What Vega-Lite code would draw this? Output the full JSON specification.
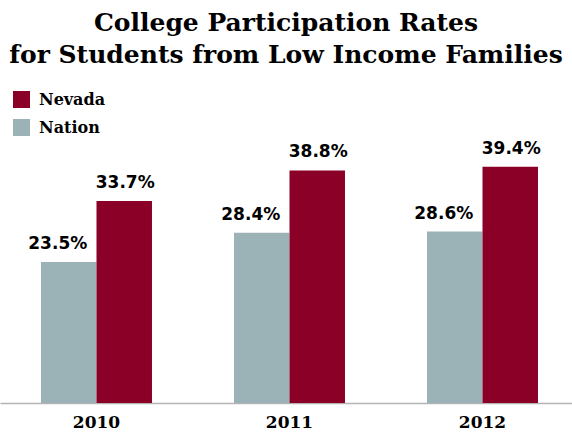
{
  "$schema": "https://vega.github.io/schema/vega-lite/v6.json",
  "autosize": "none",
  "width": 572,
  "height": 253,
  "padding": {"left": 0, "top": 150, "right": 0, "bottom": 30},
  "background": "white",
  "config": {"view": {"stroke": null}},
  "title": {
    "text": ["College Participation Rates", "for Students from Low Income Families"],
    "font": "DejaVu Serif",
    "fontWeight": "bold",
    "fontSize": 25,
    "lineHeight": 32,
    "color": "black",
    "anchor": "middle",
    "frame": "group",
    "offset": 23
  },
  "data": {
    "values": [
      {"year": "2010", "series": "Nation", "value": 23.5, "label": "23.5%"},
      {"year": "2010", "series": "Nevada", "value": 33.7, "label": "33.7%"},
      {"year": "2011", "series": "Nation", "value": 28.4, "label": "28.4%"},
      {"year": "2011", "series": "Nevada", "value": 38.8, "label": "38.8%"},
      {"year": "2012", "series": "Nation", "value": 28.6, "label": "28.6%"},
      {"year": "2012", "series": "Nevada", "value": 39.4, "label": "39.4%"}
    ]
  },
  "encoding": {
    "x": {
      "field": "year",
      "type": "nominal",
      "scale": {"range": [0, 579], "paddingInner": 0.425, "paddingOuter": 0.2125},
      "axis": {
        "title": null,
        "ticks": false,
        "labelAngle": 0,
        "labelFont": "DejaVu Serif",
        "labelFontWeight": "bold",
        "labelFontSize": 17,
        "labelColor": "black",
        "labelPadding": 11,
        "domainColor": "#b4b4b4",
        "domainWidth": 1.5
      }
    },
    "xOffset": {"field": "series", "type": "nominal", "sort": ["Nation", "Nevada"]},
    "y": {
      "field": "value",
      "type": "quantitative",
      "scale": {"domain": [0, 42.2], "nice": false},
      "axis": null
    }
  },
  "layer": [
    {
      "mark": {"type": "bar"},
      "encoding": {
        "color": {
          "field": "series",
          "type": "nominal",
          "scale": {"domain": ["Nation", "Nevada"], "range": ["#9BB2B7", "#8A0027"]},
          "legend": {
            "title": null,
            "orient": "none",
            "legendX": 13,
            "legendY": -59,
            "values": ["Nevada", "Nation"],
            "symbolType": "square",
            "symbolSize": 289,
            "symbolStrokeWidth": 0,
            "labelFont": "DejaVu Serif",
            "labelFontWeight": "bold",
            "labelFontSize": 16,
            "labelColor": "black",
            "labelOffset": 9,
            "rowPadding": 11,
            "padding": 0
          }
        }
      }
    },
    {
      "transform": [{"filter": "datum.series === 'Nation'"}],
      "mark": {"type": "text", "font": "DejaVu Sans", "fontWeight": "bold", "fontSize": 17, "baseline": "alphabetic", "dy": -13, "dx": -11, "color": "black"},
      "encoding": {"text": {"field": "label"}}
    },
    {
      "transform": [{"filter": "datum.series === 'Nevada'"}],
      "mark": {"type": "text", "font": "DejaVu Sans", "fontWeight": "bold", "fontSize": 17, "baseline": "alphabetic", "dy": -13, "dx": 1, "color": "black"},
      "encoding": {"text": {"field": "label"}}
    }
  ]
}
